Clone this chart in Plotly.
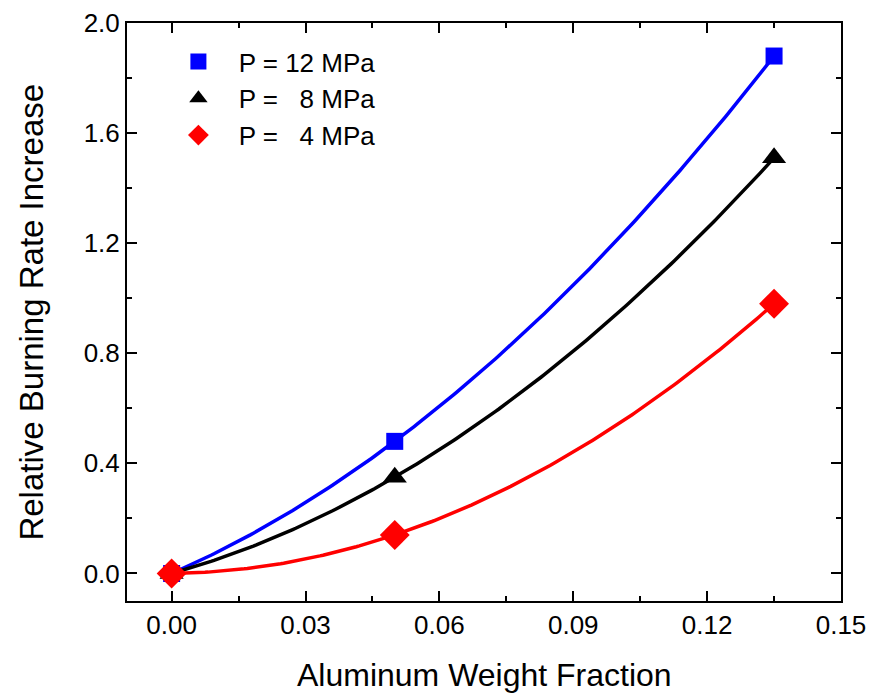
import numpy as np
import plotly.graph_objects as go

x_frac = [0.0, 0.05, 0.135]
y_12 = [0.0, 0.48, 1.88]
y_8 = [0.0, 0.35, 1.51]
y_4 = [0.0, 0.14, 0.98]
labels = ["P = 12 MPa", "P =   8 MPa", "P =   4 MPa"]
colors = ["#0000ff", "#000000", "#ff0000"]
symbols = ["square", "triangle-up", "diamond"]
msizes = [17, 21, 23]

fig = go.Figure()
xf = np.linspace(0, max(x_frac), 200)
for ys, lab, c, s, ms in zip([y_12, y_8, y_4], labels, colors, symbols, msizes):
    coef = np.polyfit(x_frac, ys, 2)
    fig.add_trace(go.Scatter(x=xf, y=np.polyval(coef, xf), mode="lines",
                             line=dict(color=c, width=3.5), showlegend=False, hoverinfo="skip"))
for ys, lab, c, s, ms in zip([y_12, y_8, y_4], labels, colors, symbols, msizes):
    fig.add_trace(go.Scatter(x=x_frac, y=ys, mode="markers", name="\u2002 " + lab,
                             marker=dict(symbol=s, size=ms, color=c, line=dict(width=0))))

font = "Liberation Sans, Arial, sans-serif"
axis_common = dict(showline=True, linecolor="black", linewidth=2, mirror="allticks",
                   ticks="inside", ticklen=10, tickwidth=2, tickcolor="black",
                   showgrid=False, zeroline=False, automargin=False,
                   tickfont=dict(family=font, size=26, color="black"))
fig.update_xaxes(range=[-0.01, 0.15], tickvals=[0, 0.03, 0.06, 0.09, 0.12, 0.15],
                 ticktext=["0.00", "0.03", "0.06", "0.09", "0.12", "0.15"],
                 minor=dict(ticks="inside", ticklen=5, tickwidth=2, tickcolor="black", dtick=0.015, tick0=0),
                 **axis_common)
fig.update_yaxes(range=[-0.1, 2.0], tickvals=[0, 0.4, 0.8, 1.2, 1.6, 2.0],
                 ticktext=["0.0", "0.4", "0.8", "1.2", "1.6", "2.0"],
                 minor=dict(ticks="inside", ticklen=5, tickwidth=2, tickcolor="black", dtick=0.2, tick0=0),
                 **axis_common)
fig.add_annotation(text="Aluminum Weight Fraction", xref="paper", yref="paper",
                   x=0.5, y=-0.128, xanchor="center", yanchor="middle", showarrow=False,
                   font=dict(family=font, size=32, color="black"))
fig.add_annotation(text="Relative Burning Rate Increase", xref="paper", yref="paper",
                   x=-0.135, y=0.5, xanchor="center", yanchor="middle", textangle=-90, showarrow=False,
                   font=dict(family=font, size=33, color="black"))
fig.update_layout(width=870, height=698, margin=dict(l=127, r=29, t=23, b=97),
                  paper_bgcolor="white", plot_bgcolor="white",
                  legend=dict(x=0.072, y=0.974, xanchor="left", yanchor="top",
                              bgcolor="rgba(0,0,0,0)", font=dict(family=font, size=26, color="black"),
                              itemsizing="trace", tracegroupgap=0))
fig.write_html("out.html")
